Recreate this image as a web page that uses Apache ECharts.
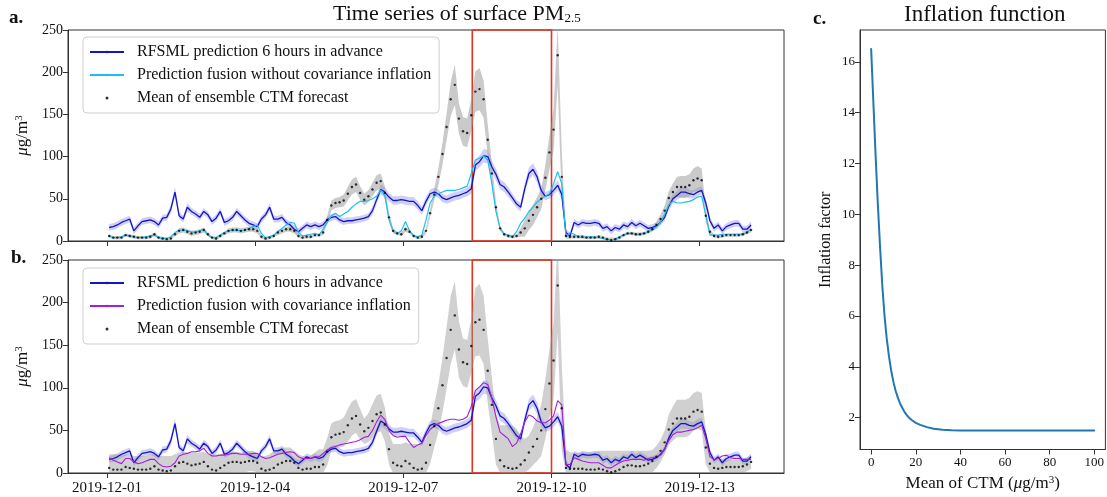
<!DOCTYPE html>
<html>
<head>
<meta charset="utf-8">
<title>Time series of surface PM2.5</title>
<script src="https://cdn.jsdelivr.net/npm/echarts@6/dist/echarts.min.js"></script>
<style>
  html, body { margin: 0; padding: 0; background: #fff; }
  #main { width: 1107px; height: 497px; }
</style>
</head>
<body>
<div id="main"></div>
<script>
// samples every 2 hours, first one at 2019-12-01 01:00 (UTC)
const firstSample = Date.UTC(2019, 11, 1, 1);
const stepHours = 2;

// RFSML prediction 6 hours in advance (ug/m3)
const rfsml = [
  16,17,19,22,24,26,12,18,23,24,25,23,
  19,27,28,38,58,30,26,40,35,32,28,35,
  31,23,27,35,22,24,28,35,30,25,21,19,
  17,26,31,40,26,26,28,22,19,14,11,15,
  19,17,19,17,19,25,28,29,25,23,24,24,
  25,26,27,29,36,49,61,58,52,48,48,49,
  48,47,47,42,36,47,56,58,56,51,49,51,
  53,54,56,58,62,90,94,101,100,88,79,67,
  64,58,51,44,40,62,80,85,76,60,53,55,
  60,66,55,10,6,22,19,22,21,21,22,21,
  15,17,12,16,14,19,17,22,18,21,18,15,
  16,18,22,28,41,50,54,58,58,56,55,58,
  60,45,24,15,19,12,17,19,21,21,14,14,
  19
];
// half width of the RFSML uncertainty band
const rfsmlSpread = [
  4,4,4,4,4,4,4,4,4,4,4,4,
  4,4,4,5,6,4,4,5,4,4,4,4,
  4,4,4,4,4,4,4,4,4,4,4,4,
  4,4,4,5,4,4,4,4,4,4,4,4,
  4,4,4,4,4,4,4,4,4,4,4,4,
  4,4,4,4,5,5,6,6,5,5,5,5,
  5,5,5,5,5,5,5,5,5,5,5,5,
  5,5,5,5,6,7,7,8,8,7,7,6,
  6,6,5,5,5,6,7,7,7,6,5,5,
  6,6,6,4,4,4,4,4,4,4,4,4,
  4,4,4,4,4,4,4,4,4,4,4,4,
  4,4,4,4,5,5,5,6,6,5,5,5,
  5,5,4,4,4,4,4,4,4,4,4,4,
  4
];
// mean of ensemble CTM forecast
const ctmMean = [
  6,4,4,4,7,6,5,4,4,4,5,8,
  4,3,2,3,8,12,13,11,9,10,11,13,
  8,4,3,6,9,12,13,13,12,13,14,14,
  12,5,3,4,6,10,12,14,14,12,6,4,
  5,5,7,7,10,25,42,45,46,48,56,64,
  67,57,49,53,61,69,71,57,28,12,9,8,
  14,11,6,4,5,12,33,55,76,103,135,168,
  185,145,130,128,149,177,180,168,120,80,40,15,
  8,6,5,6,10,15,24,31,40,50,75,105,
  132,220,76,6,5,5,5,5,4,4,4,5,
  4,2,1,2,4,7,9,9,8,8,9,11,
  14,19,26,36,51,58,64,64,64,66,72,74,
  72,30,11,6,5,6,7,7,7,7,8,10,
  13
];
// ensemble spread, panel a (no inflation)
const ctmSpreadA = [
  2,2,2,2,2,2,2,2,2,2,2,2,
  2,2,2,2,2,3,3,3,3,3,3,3,
  2,2,2,2,2,3,3,3,3,3,3,3,
  3,2,2,2,2,3,3,3,3,3,2,2,
  2,2,2,2,3,5,6,6,6,7,8,9,
  9,8,7,7,8,9,9,8,6,3,2,2,
  3,2,2,2,2,3,5,7,10,13,16,20,
  24,18,17,17,19,24,25,22,18,12,7,3,
  2,2,2,2,5,10,11,12,12,12,15,20,
  25,35,30,3,2,2,2,2,2,2,2,2,
  2,2,2,2,2,2,2,2,2,2,2,2,
  3,4,5,6,8,10,12,13,13,13,14,15,
  14,8,3,2,2,2,2,2,2,2,2,2,
  3
];
// ensemble spread, panel b (with covariance inflation)
const ctmSpreadB = [
  11,11,11,11,11,11,10,10,10,10,11,11,
  10,10,10,10,11,12,12,12,12,12,12,12,
  11,11,11,11,12,12,12,12,12,12,12,12,
  11,10,10,11,13,14,15,15,15,13,11,10,
  10,10,12,14,14,16,16,16,16,17,19,20,
  20,18,15,17,20,22,22,20,18,17,17,17,
  18,17,17,17,18,20,22,25,28,32,36,40,
  40,33,28,28,32,40,42,40,38,33,30,28,
  28,28,28,26,22,20,20,22,26,30,35,40,
  45,55,50,14,12,12,12,12,12,12,12,13,
  13,13,13,13,13,13,13,13,13,13,13,13,
  13,13,13,14,18,20,22,22,22,22,22,22,
  22,20,10,8,8,8,8,8,8,8,8,8,
  8
];
// prediction fusion without covariance inflation
const fusionNoInfl = [
  6,4,4,5,7,6,5,4,4,5,6,7,
  4,3,3,5,10,13,13,12,11,10,12,14,
  7,4,4,7,10,12,13,13,12,13,15,17,
  19,9,4,5,7,11,15,19,22,21,10,6,
  7,8,9,7,14,22,30,33,29,32,35,40,
  44,47,47,48,50,53,60,54,26,12,9,12,
  23,12,6,5,7,25,45,53,56,58,60,60,
  60,61,63,65,80,96,98,101,96,68,35,15,
  8,7,5,11,21,27,35,40,46,50,53,56,
  68,82,68,5,10,8,5,4,5,5,5,4,
  3,2,1,2,5,7,9,9,8,8,9,11,
  14,17,22,32,43,47,45,45,46,47,49,52,
  53,30,7,7,7,8,8,8,8,8,8,10,
  14
];
// prediction fusion with covariance inflation
const fusionInfl = [
  18,15,13,11,17,17,13,11,12,14,16,16,
  11,8,7,8,12,20,22,23,25,25,26,29,
  23,20,20,21,21,22,23,23,22,22,22,23,
  23,19,17,18,20,22,23,24,25,24,19,17,
  17,17,19,19,23,27,30,31,33,34,35,36,
  37,39,42,43,50,60,68,63,50,44,42,43,
  43,36,30,33,35,44,51,55,58,60,62,63,
  63,62,63,66,78,97,101,106,104,88,66,48,
  44,40,31,35,46,60,68,66,61,59,59,62,
  67,85,80,10,10,18,16,14,13,12,12,12,
  9,6,6,9,12,14,15,16,16,16,15,17,
  18,19,21,28,38,45,48,48,49,50,51,53,
  56,40,19,16,17,20,21,18,17,17,16,16,
  16
];

const dateTicks = ['2019-12-01', '2019-12-04', '2019-12-07', '2019-12-10', '2019-12-13'];
const pmTicks = [0, 50, 100, 150, 200, 250];
const highlightWindow = [Date.UTC(2019, 11, 8, 9, 30), Date.UTC(2019, 11, 10, 0, 0)];

// inflation function (panel c)
const ctmLevel = [0,1,2,3,4,5,6,7,8,9,10,11,12,13,14,15,16,17,18,19,20,22,25,28,32,36,40,50,60,70,80,90,100];
const inflFactor = [16.5,14.4,12.3,10.4,8.7,7.2,6.0,5.1,4.4,3.85,3.4,3.05,2.78,2.55,2.38,2.22,2.1,2.0,1.92,1.86,1.8,1.72,1.63,1.57,1.53,1.51,1.5,1.5,1.5,1.5,1.5,1.5,1.5];
const levelTicks = [0, 20, 40, 60, 80, 100];
const factorTicks = [2, 4, 6, 8, 10, 12, 14, 16];

const times = rfsml.map((_, i) => firstSample + i * stepHours * 3600 * 1000);
const tickTimes = dateTicks.map(d => Date.parse(d + 'T00:00:00Z'));
const pair = (arr) => arr.map((v, i) => [times[i], v]);
const lower = (arr, sp) => arr.map((v, i) => [times[i], v - sp[i]]);
const width = (sp) => sp.map((s, i) => [times[i], 2 * s]);

const FONT = '"Liberation Serif", "DejaVu Serif", serif';
const AX = '#333';
const BLUE = '#1414c8';
const names = {
  rf: 'RFSML prediction 6 hours in advance',
  noInfl: 'Prediction fusion without covariance inflation',
  infl: 'Prediction fusion with covariance inflation',
  ctm: 'Mean of ensemble CTM forecast'
};

function timeAxis(idx, showLabels) {
  return {
    type: 'time', gridIndex: idx,
    min: Date.UTC(2019, 10, 30, 5), max: Date.UTC(2019, 11, 14, 17),
    axisLine: { show: true, onZero: false, lineStyle: { color: AX, width: 1 } },
    axisTick: { show: true, length: 5, customValues: tickTimes, lineStyle: { color: AX } },
    axisLabel: { show: showLabels, customValues: tickTimes, formatter: '{yyyy}-{MM}-{dd}',
      fontFamily: FONT, fontSize: 15, color: '#111', margin: 8 },
    splitLine: { show: false }
  };
}
function pmAxis(idx) {
  return {
    type: 'value', gridIndex: idx, min: 0, max: 250,
    axisLine: { show: true, onZero: false, lineStyle: { color: AX, width: 1 } },
    axisTick: { show: true, length: 5, customValues: pmTicks, lineStyle: { color: AX } },
    axisLabel: { customValues: pmTicks, fontFamily: FONT, fontSize: 14, color: '#111', margin: 5 },
    splitLine: { show: false },
    name: '{i|μ}g/m{s|3}', nameLocation: 'middle', nameGap: 25, nameRotate: 90,
    nameTextStyle: { fontFamily: FONT, fontSize: 17, color: '#111',
      rich: { i: { fontFamily: FONT, fontSize: 17, fontStyle: 'italic', color: '#111' },
              s: { fontFamily: FONT, fontSize: 11, color: '#111', verticalAlign: 'top', padding: [0, 0, 7, 0] } } }
  };
}
function band(idx, stackId, base, sp, color) {
  return [
    { type: 'line', xAxisIndex: idx, yAxisIndex: idx, stack: stackId, data: lower(base, sp),
      symbol: 'none', lineStyle: { width: 0 }, silent: true, z: 1 },
    { type: 'line', xAxisIndex: idx, yAxisIndex: idx, stack: stackId, data: width(sp),
      symbol: 'none', lineStyle: { width: 0 }, areaStyle: { color: color, opacity: 1 }, silent: true, z: 1 }
  ];
}
function legendFor(top, second) {
  return {
    top: top, left: 83, orient: 'vertical', selectedMode: false,
    data: [names.rf, second, names.ctm],
    itemWidth: 34, itemHeight: 3, itemGap: 7,
    padding: [7, 8, 7, 6],
    borderColor: '#cfcfcf', borderWidth: 1, borderRadius: 4, backgroundColor: 'rgba(255,255,255,0.85)',
    textStyle: { fontFamily: FONT, fontSize: 16, color: '#111', lineHeight: 16, padding: [0, 0, 0, 8] }
  };
}
const redBox = {
  silent: true,
  itemStyle: { color: 'rgba(0,0,0,0)', borderColor: '#e2361f', borderWidth: 1.6 },
  data: [[{ xAxis: highlightWindow[0] }, { xAxis: highlightWindow[1] }]]
};

const chart = echarts.init(document.getElementById('main'));
chart.setOption({
  animation: false,
  useUTC: true,
  textStyle: { fontFamily: FONT },
  grid: [
    { left: 68, top: 30, width: 716, height: 211, show: true, borderColor: AX, borderWidth: 1 },
    { left: 68, top: 260, width: 716, height: 213, show: true, borderColor: AX, borderWidth: 1 },
    { left: 860, top: 30, width: 249, height: 423, show: true, borderColor: AX, borderWidth: 1 }
  ],
  xAxis: [
    timeAxis(0, false),
    timeAxis(1, true),
    { type: 'value', gridIndex: 2, min: -5, max: 105,
      axisLine: { show: true, onZero: false, lineStyle: { color: AX } },
      axisTick: { length: 5, customValues: levelTicks, lineStyle: { color: AX } },
      axisLabel: { customValues: levelTicks, fontFamily: FONT, fontSize: 13, color: '#111', margin: 7 },
      splitLine: { show: false },
      name: 'Mean of CTM ({i|μ}g/m{s|3})', nameLocation: 'middle', nameGap: 25,
      nameTextStyle: { fontFamily: FONT, fontSize: 17, color: '#111',
        rich: { i: { fontFamily: FONT, fontSize: 17, fontStyle: 'italic', color: '#111' },
                s: { fontFamily: FONT, fontSize: 11, color: '#111', verticalAlign: 'top', padding: [0, 0, 7, 0] } } } }
  ],
  yAxis: [
    pmAxis(0),
    pmAxis(1),
    { type: 'value', gridIndex: 2, min: 0.75, max: 17.25,
      axisLine: { show: true, onZero: false, lineStyle: { color: AX } },
      axisTick: { length: 5, customValues: factorTicks, lineStyle: { color: AX } },
      axisLabel: { customValues: factorTicks, fontFamily: FONT, fontSize: 13, color: '#111', margin: 5 },
      splitLine: { show: false },
      name: 'Inflation factor', nameLocation: 'middle', nameGap: 26, nameRotate: 90,
      nameTextStyle: { fontFamily: FONT, fontSize: 16, color: '#111' } }
  ],
  legend: [legendFor(37, names.noInfl), legendFor(268, names.infl)],
  graphic: [
    { type: 'text', left: 9, top: 9, style: { text: 'a.', font: 'bold 19px ' + FONT, fill: '#111' } },
    { type: 'text', left: 11, top: 249, style: { text: 'b.', font: 'bold 19px ' + FONT, fill: '#111' } },
    { type: 'text', left: 813, top: 10, style: { text: 'c.', font: 'bold 19px ' + FONT, fill: '#111' } },
    { type: 'text', left: 333, top: 3, style: {
        text: '{n|Time series of surface PM}{s|2.5}',
        rich: { n: { font: '22px ' + FONT, fill: '#111' },
                s: { font: '13px ' + FONT, fill: '#111', padding: [9, 0, 0, 0] } } } },
    { type: 'text', left: 904, top: 3, style: { text: 'Inflation function', font: '23px ' + FONT, fill: '#111' } }
  ],
  series: [
    // panel a
    ...band(0, 'rfA', rfsml, rfsmlSpread, 'rgba(20,20,210,0.2)'),
    ...band(0, 'ctmA', ctmMean, ctmSpreadA, 'rgba(150,150,150,0.5)'),
    { name: names.rf, type: 'line', xAxisIndex: 0, yAxisIndex: 0, data: pair(rfsml),
      symbol: 'none', lineStyle: { color: BLUE, width: 1.3 }, itemStyle: { color: BLUE }, z: 3, markArea: redBox },
    { name: names.noInfl, type: 'line', xAxisIndex: 0, yAxisIndex: 0, data: pair(fusionNoInfl),
      symbol: 'none', lineStyle: { color: '#1dbff2', width: 1.2 }, itemStyle: { color: '#1dbff2' }, z: 4 },
    { name: names.ctm, type: 'scatter', xAxisIndex: 0, yAxisIndex: 0, data: pair(ctmMean),
      symbol: 'circle', symbolSize: 2.4, itemStyle: { color: '#000' }, z: 5 },
    // panel b
    ...band(1, 'rfB', rfsml, rfsmlSpread, 'rgba(20,20,210,0.2)'),
    ...band(1, 'ctmB', ctmMean, ctmSpreadB, 'rgba(150,150,150,0.45)'),
    { name: names.rf, type: 'line', xAxisIndex: 1, yAxisIndex: 1, data: pair(rfsml),
      symbol: 'none', lineStyle: { color: BLUE, width: 1.3 }, itemStyle: { color: BLUE }, z: 3, markArea: redBox },
    { name: names.infl, type: 'line', xAxisIndex: 1, yAxisIndex: 1, data: pair(fusionInfl),
      symbol: 'none', lineStyle: { color: '#a21fe0', width: 1.1 }, itemStyle: { color: '#a21fe0' }, z: 4 },
    { name: names.ctm, type: 'scatter', xAxisIndex: 1, yAxisIndex: 1, data: pair(ctmMean),
      symbol: 'circle', symbolSize: 2.4, itemStyle: { color: '#000' }, z: 5 },
    // panel c
    { name: 'Inflation function', type: 'line', xAxisIndex: 2, yAxisIndex: 2,
      data: ctmLevel.map((x, i) => [x, inflFactor[i]]),
      smooth: false, symbol: 'none', lineStyle: { color: '#1f77b4', width: 2, join: 'round', cap: 'round' } }
  ]
});
</script>
</body>
</html>
